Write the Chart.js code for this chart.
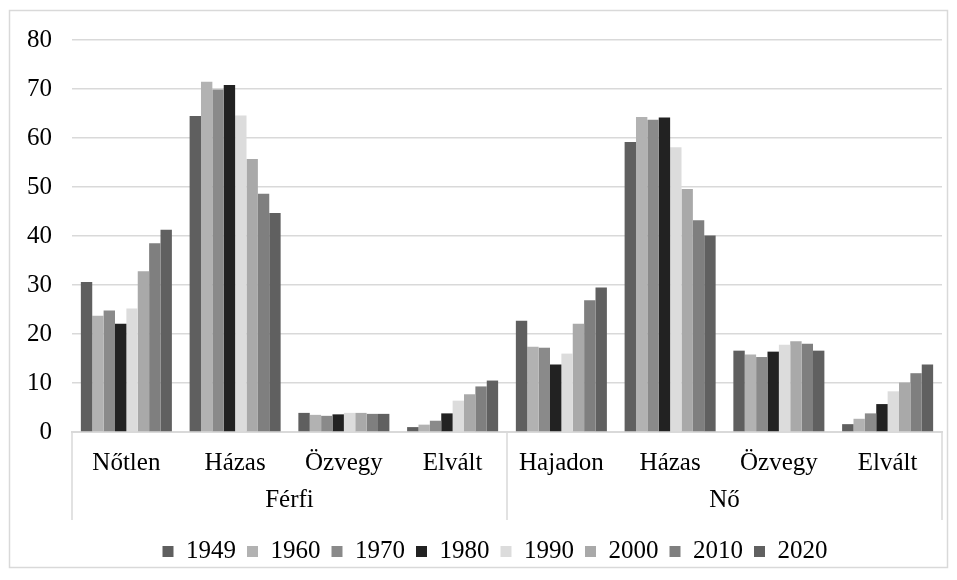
<!DOCTYPE html>
<html>
<head>
<meta charset="utf-8">
<script src="https://cdn.jsdelivr.net/npm/chart.js@4.4.1/dist/chart.umd.min.js"></script>
<style>
  html, body { margin: 0; padding: 0; background: #fff; }
  #wrap { width: 957px; height: 580px; position: relative; }
</style>
</head>
<body>
<div id="wrap"><canvas id="c" width="957" height="580"></canvas></div>
<script>
// Marital status categories (first level) and sex groups (second level)
const categories = ['Nőtlen', 'Házas', 'Özvegy', 'Elvált', 'Hajadon', 'Házas', 'Özvegy', 'Elvált'];
const groups = ['Férfi', 'Nő'];
const years = ['1949', '1960', '1970', '1980', '1990', '2000', '2010', '2020'];
const yTicks = [0, 10, 20, 30, 40, 50, 60, 70, 80];

// Share (%) per census year, in category order
const v1949 = [30.6, 64.5, 3.9, 1.0, 22.7, 59.2, 16.6, 1.6];
const v1960 = [23.7, 71.5, 3.5, 1.5, 17.4, 64.3, 15.8, 2.7];
const v1970 = [24.8, 69.9, 3.3, 2.3, 17.2, 63.7, 15.3, 3.8];
const v1980 = [22.1, 70.8, 3.6, 3.8, 13.8, 64.2, 16.4, 5.7];
const v1990 = [25.2, 64.6, 3.9, 6.4, 16.0, 58.1, 17.8, 8.3];
const v2000 = [32.8, 55.7, 3.9, 7.7, 22.1, 49.6, 18.5, 10.1];
const v2010 = [38.5, 48.6, 3.7, 9.3, 26.9, 43.2, 18.0, 12.0];
const v2020 = [41.3, 44.7, 3.7, 10.5, 29.5, 40.1, 16.6, 13.8];

const seriesValues = [v1949, v1960, v1970, v1980, v1990, v2000, v2010, v2020];
const seriesColors = ['#5f5f5f', '#b2b2b2', '#8a8a8a', '#222222', '#dcdcdc', '#a9a9a9', '#7f7f7f', '#606060'];

const FONT = "'Liberation Serif', 'Times New Roman', serif";
const FONT_SIZE = 25;
const GRID = '#d9d9d9';

// Outer frame, legend offset and group divider lines under the category axis
const framePlugin = {
  id: 'frame',
  afterLayout(chart) {
    // center the legend row a little right of the canvas middle
    chart.legend.left += 48;
  },
  beforeDraw(chart) {
    const ctx = chart.ctx;
    ctx.save();
    ctx.fillStyle = '#ffffff';
    ctx.fillRect(0, 0, chart.width, chart.height);
    ctx.strokeStyle = GRID;
    ctx.lineWidth = 1.5;
    ctx.strokeRect(9.5, 10.5, 938, 557);
    ctx.restore();
  },
  afterDraw(chart) {
    const ctx = chart.ctx;
    const x = chart.scales.x;
    const x2 = chart.scales.x2;
    const area = chart.chartArea;
    const mid = (x.getPixelForValue(3) + x.getPixelForValue(4)) / 2;
    const end = x2.top + 40;
    ctx.save();
    ctx.strokeStyle = GRID;
    ctx.lineWidth = 1.5;
    [area.left, mid, area.right].forEach(px => {
      ctx.beginPath();
      ctx.moveTo(px, area.bottom);
      ctx.lineTo(px, end);
      ctx.stroke();
    });
    ctx.restore();
  }
};

new Chart(document.getElementById('c'), {
  type: 'bar',
  data: {
    labels: categories,
    datasets: years.map((y, i) => ({
      label: y,
      data: seriesValues[i],
      backgroundColor: seriesColors[i],
      borderWidth: 0,
      categoryPercentage: 0.837,
      barPercentage: 1.0
    }))
  },
  options: {
    responsive: false,
    animation: false,
    devicePixelRatio: 1,
    layout: { padding: { left: 0, top: 40, right: 15, bottom: 6 } },
    plugins: {
      legend: {
        position: 'bottom',
        labels: {
          boxWidth: 11,
          boxHeight: 11,
          padding: 11,
          color: '#000',
          font: { family: FONT, size: FONT_SIZE }
        }
      },
      tooltip: { enabled: false }
    },
    scales: {
      y: {
        min: 0,
        max: 80,
        afterBuildTicks(scale) { scale.ticks = yTicks.map(v => ({ value: v })); },
        afterFit(scale) { scale.width = 72; },
        grid: { color: GRID, lineWidth: 1.5, drawTicks: false },
        border: { display: false },
        ticks: { padding: 20, color: '#000', font: { family: FONT, size: FONT_SIZE } }
      },
      x: {
        weight: 0,
        afterFit(scale) { scale.height = 48; },
        grid: { display: true, drawOnChartArea: false, drawTicks: false },
        border: { display: true, color: GRID, width: 2 },
        ticks: { padding: 16, maxRotation: 0, autoSkip: false, color: '#000', font: { family: FONT, size: FONT_SIZE } }
      },
      x2: {
        type: 'category',
        position: 'bottom',
        weight: 1,
        labels: groups,
        offset: true,
        afterFit(scale) { scale.height = 48; },
        grid: { display: false, drawTicks: false },
        border: { display: false },
        ticks: { padding: 5, maxRotation: 0, color: '#000', font: { family: FONT, size: FONT_SIZE } }
      }
    }
  },
  plugins: [framePlugin]
});
</script>
</body>
</html>
